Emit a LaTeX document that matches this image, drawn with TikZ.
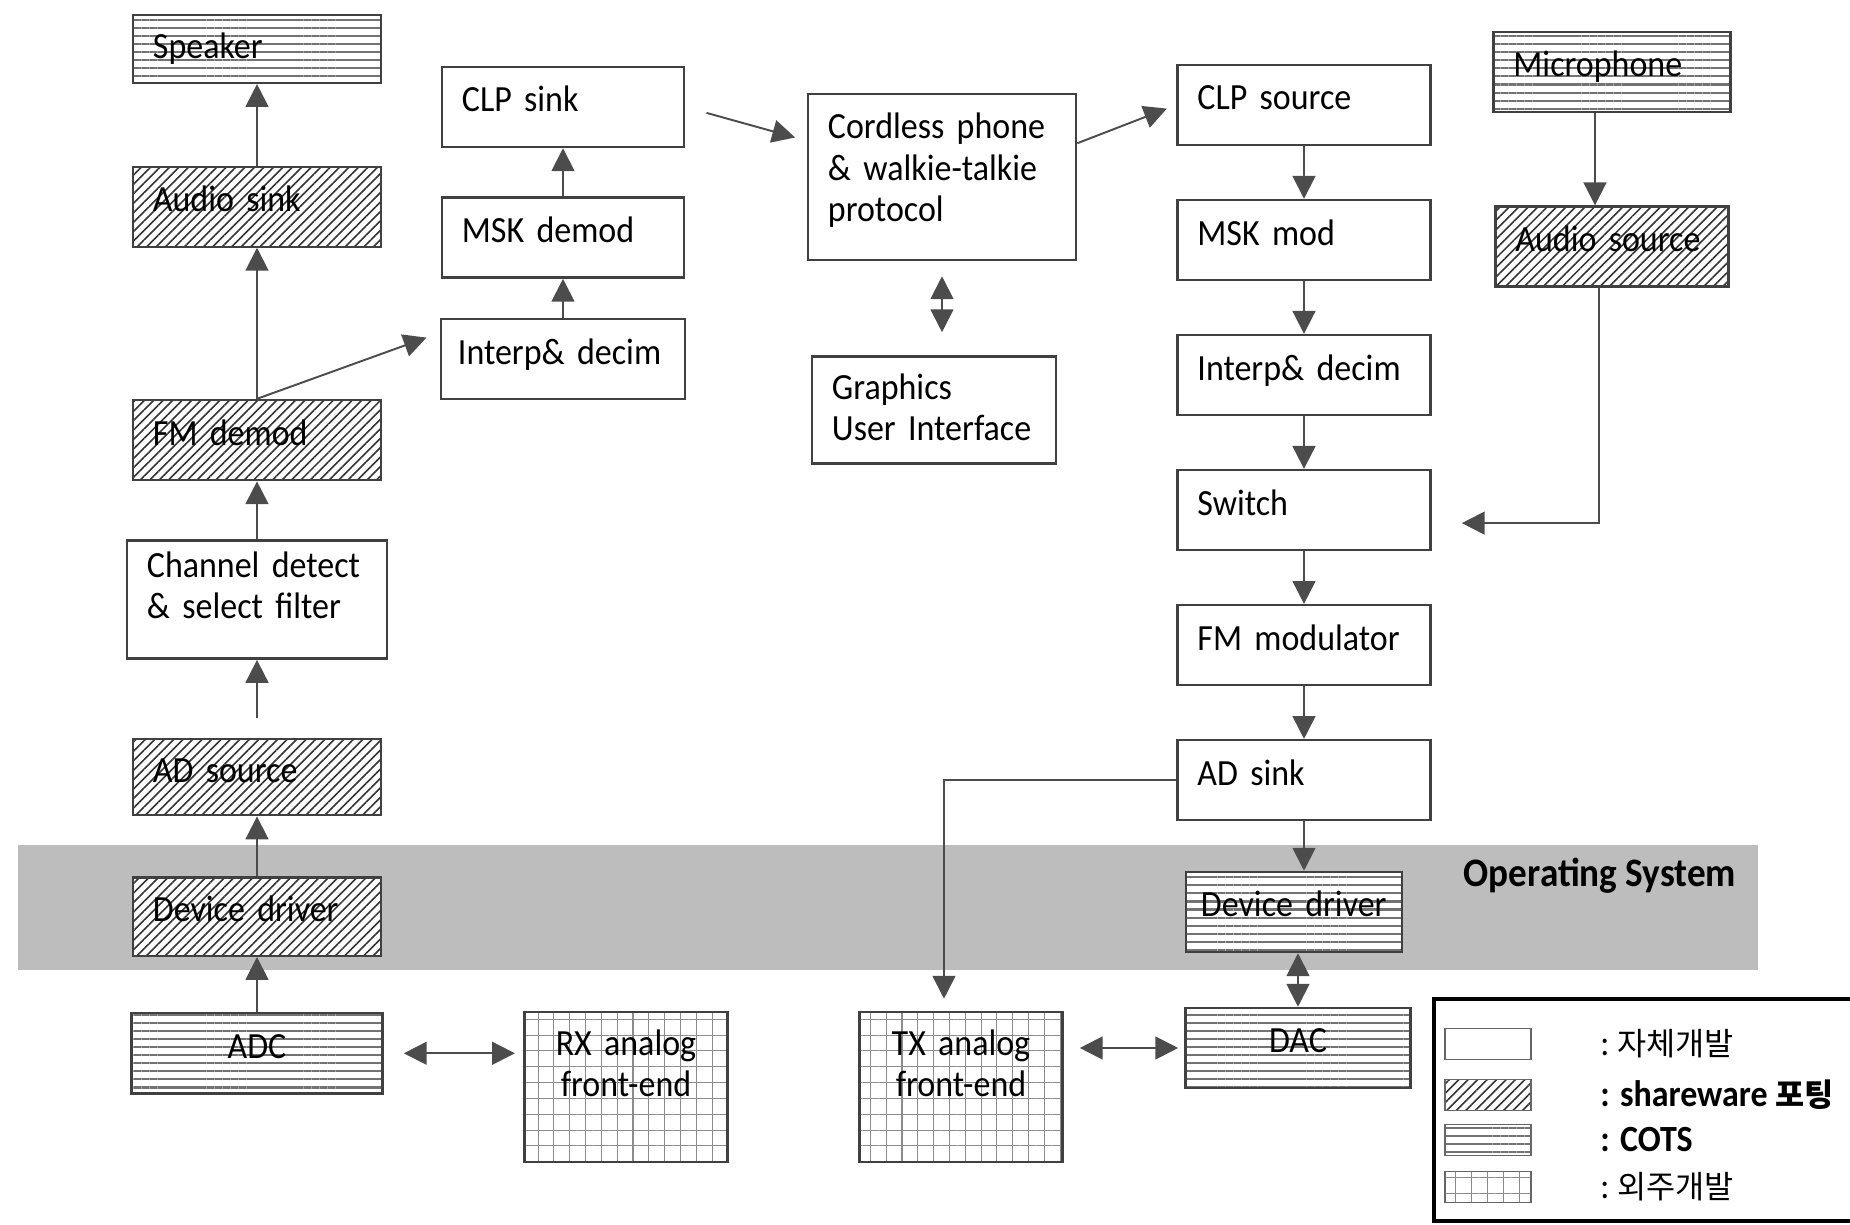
\documentclass[tikz,border=0pt]{standalone}
\usepackage{fontspec}
\setmainfont{Carlito}[FakeStretch=0.92]
\newfontfamily\krfont{Noto Sans CJK KR}
\usetikzlibrary{arrows.meta,positioning,patterns.meta}
\hyphenpenalty=10000

\begin{document}
\begin{tikzpicture}[x=0.01cm, y=-0.01cm, font=\fontsize{10.5}{11.7}\selectfont,
  node distance=5.25mm,
  box/.style={draw=black!75, line width=0.7pt, align=left, inner xsep=2mm, inner ysep=0.5mm,
    text width=21.3mm, minimum height=8mm, text height=2.8mm, text depth=1.8mm},
  hatchfill/.style={preaction={fill=white}, pattern={Lines[angle=45,distance=1.9pt,line width=0.45pt]}, pattern color=black!80},
  linefill/.style={preaction={fill=white}, pattern={Lines[angle=0,distance=2.3pt,line width=0.6pt]}, pattern color=black!55},
  gridfill/.style={preaction={fill=white}, pattern={Hatch[distance=4.5pt,line width=0.3pt]}, pattern color=black!45},
  plain/.style={box, fill=white},
  shareware/.style={box, hatchfill},
  cots/.style={box, linefill},
  outsourced/.style={box, gridfill, align=center, text width=16.3mm, minimum height=15mm, text depth=9.1mm},
  swatch/.style={draw=black!60, line width=0.5pt, minimum width=8.6mm, minimum height=3.1mm, inner sep=0pt},
  keytext/.style={anchor=west, font=\fontsize{10.5}{12}\selectfont},
  flow/.style={-{Triangle[length=6.5pt,width=6.5pt]}, draw=black!70, line width=0.55pt},
  bothflow/.style={flow, {Triangle[length=6.5pt,width=6.5pt]}-{Triangle[length=6.5pt,width=6.5pt]}}]
\useasboundingbox (0,0) rectangle (1850,1225);
% operating system band
\fill[black!26] (18,845) rectangle (1758,970);
\node[font=\bfseries\fontsize{11.5}{13}\selectfont] (oslabel) at (1600,876) {Operating System};
% receive path
\node[cots, text width=20.8mm, minimum height=6.8mm, text depth=0.8mm] (speaker) at (257,49) {Speaker};
\node[shareware, text width=20.8mm, below=8.2mm of speaker] (audiosink) {Audio sink};
\node[shareware, text width=20.8mm, below=15.1mm of audiosink] (fmdemod) {FM demod};
\node[plain, text width=22mm, minimum height=11.8mm, text depth=7.3mm, below=5.8mm of fmdemod] (chdetect) {Channel detect\\\& select filter};
\node[shareware, text width=20.8mm, minimum height=7.6mm, below=7.8mm of chdetect] (adsource) {AD source};
\node[shareware, text width=20.8mm, minimum height=7.8mm, below=6mm of adsource] (ddrx) {Device driver};
\node[cots, text width=21.1mm, align=center, below=5.5mm of ddrx] (adc) {ADC};
\node[outsourced] (rxfront) at (626,1087) {RX analog\\front-end};
\node[plain, text width=20.2mm] (clpsink) at (563,107) {CLP sink};
\node[plain, text width=20.2mm, below=4.8mm of clpsink] (mskdemod) {MSK demod};
\node[plain, text width=21mm, inner xsep=1.7mm, below=3.9mm of mskdemod] (interprx) {Interp\& decim};
% protocol and user interface
\node[plain, text width=22.8mm, minimum height=16.6mm, text depth=10.4mm] (protocol) at (942,177) {Cordless phone\\\& walkie-talkie\\protocol};
\node[plain, text width=20.4mm, minimum height=10.7mm, text depth=4.9mm] (gui) at (934,410) {Graphics\\User Interface};
% transmit path
\node[plain] (clpsource) at (1304,105) {CLP source};
\node[plain, below=of clpsource] (mskmod) {MSK mod};
\node[plain, below=of mskmod] (interptx) {Interp\& decim};
\node[plain, below=of interptx] (switchblk) {Switch};
\node[plain, below=of switchblk] (fmmod) {FM modulator};
\node[plain, below=of fmmod] (adsink) {AD sink};
\node[cots, text width=18.6mm, inner xsep=1.5mm] (ddtx) at (1294,912) {Device driver};
\node[cots, text width=18.5mm, align=center] (dac) at (1298,1048) {DAC};
\node[outsourced] (txfront) at (961,1087) {TX analog\\front-end};
\node[cots, text width=19.7mm] (mic) at (1612,72) {Microphone};
\node[shareware, text width=19.3mm, below=9.2mm of mic] (audiosrc) {Audio source};
% legend
\draw[line width=1.4pt] (1434,999) rectangle (1870,1221);
\node[swatch] (keyown) at (1488,1044) {};
\node[swatch, hatchfill] (keyshare) at (1488,1095) {};
\node[swatch, linefill] (keycots) at (1488,1140) {};
\node[swatch, gridfill] (keyout) at (1488,1187) {};
\node[keytext] (txtown) at (1588,1044) {:\ {\krfont\fontsize{9}{12}\selectfont 자체개발}};
\node[keytext, font=\bfseries\fontsize{10.5}{12}\selectfont] (txtshare) at (1588,1095) {: shareware {\krfont\fontsize{9}{12}\selectfont 포팅}};
\node[keytext, font=\bfseries\fontsize{10.5}{12}\selectfont] (txtcots) at (1588,1140) {: COTS};
\node[keytext] (txtout) at (1588,1187) {:\ {\krfont\fontsize{9}{12}\selectfont 외주개발}};
% connectors
\draw[flow] (audiosink) -- (speaker);
\draw[flow] (fmdemod) -- (audiosink);
\draw[flow, shorten >=1.4mm] (fmdemod.north) -- (interprx.168);
\draw[flow] (chdetect) -- (fmdemod);
\draw[flow, shorten <=2mm] (adsource) -- (chdetect);
\draw[flow] (ddrx) -- (adsource);
\draw[flow] (adc) -- (ddrx);
\draw[bothflow, shorten <=2mm, shorten >=0.9mm] (adc.east) -- (adc.east -| rxfront.west);
\draw[flow] (interprx) -- (mskdemod);
\draw[flow] (mskdemod) -- (clpsink);
\draw[flow, shorten <=2.2mm, shorten >=1.2mm] (clpsink.east) -- (protocol.165);
\draw[flow, shorten >=1mm] (protocol.14) -- (clpsource.west);
\draw[bothflow, shorten <=1.5mm, shorten >=2.3mm] (protocol.south) -- (protocol.south |- gui.north);
\draw[flow] (clpsource) -- (mskmod);
\draw[flow] (mskmod) -- (interptx);
\draw[flow] (interptx) -- (switchblk);
\draw[flow] (switchblk) -- (fmmod);
\draw[flow] (fmmod) -- (adsink);
\draw[flow] (adsink) -- (adsink |- ddtx.north);
\draw[bothflow] (dac.north |- ddtx.south) -- (dac.north);
\draw[bothflow, shorten <=1.6mm, shorten >=0.6mm] (txfront.east |- dac) -- (dac.west);
\draw[flow, shorten >=1.2mm] (adsink.west) -| ([xshift=-1.7mm]txfront.north);
\draw[flow] ([xshift=-1.7mm]mic.south) -- ([xshift=-1.7mm]audiosrc.north);
\draw[flow, shorten >=3mm] ([xshift=-1.3mm]audiosrc.south) |- ([yshift=-1.3mm]switchblk.east);
\end{tikzpicture}
\end{document}
